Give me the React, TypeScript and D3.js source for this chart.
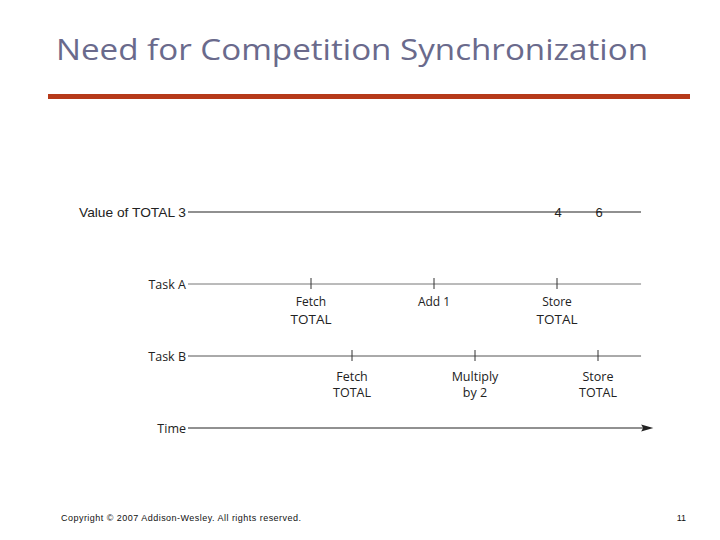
import React from "react";
import * as d3 from "d3";

const title = "Need for Competition Synchronization";
const rows = ["Value of TOTAL 3", "Task A", "Task B", "Time"];
const valueTimes = [9, 10];
const valueLabels = ["4", "6"];
const taskATimes = [3, 6, 9];
const taskALabels = [["Fetch", "TOTAL"], ["Add 1"], ["Store", "TOTAL"]];
const taskBTimes = [4, 7, 10];
const taskBLabels = [["Fetch", "TOTAL"], ["Multiply", "by 2"], ["Store", "TOTAL"]];
const footer = "Copyright © 2007 Addison-Wesley. All rights reserved.";
const pageNumber = "11";

export default function App() {
  const x = d3.scaleLinear().domain([0, 11]).range([188, 639]);
  const y = d3.scalePoint<string>().domain(rows).range([212, 428]);
  const tEnd = 11.05;
  const lineFont = "'Liberation Sans', Arial, sans-serif";
  const taskFont = "'Open Sans', 'DejaVu Sans', sans-serif";

  const renderTaskLabels = (
    times: number[],
    labels: string[][],
    yy: number,
    first: number,
    gap: number,
    sizes: number[]
  ) =>
    times.map((t, i) => (
      <g key={i}>
        <line x1={x(t)} x2={x(t)} y1={yy - 6} y2={yy + 5} stroke="#333" strokeWidth={1} />
        {labels[i].map((s, j) => (
          <text
            key={j}
            x={x(t)}
            y={yy + first + j * gap}
            textAnchor="middle"
            fontFamily={taskFont}
            fontSize={sizes[j]}
            fill="#222"
          >
            {s}
          </text>
        ))}
      </g>
    ));

  return (
    <svg width={720} height={540} style={{ position: "absolute", left: 0, top: 0, background: "#fff" }}>
      <text
        x={56}
        y={60}
        fontFamily="'Open Sans', sans-serif"
        fontSize={29.5}
        fill="#6a6a8c"
        textLength={592}
        lengthAdjust="spacingAndGlyphs"
      >
        {title}
      </text>
      <rect x={48} y={94} width={642} height={5} fill="#b63a1a" />

      {/* Value of TOTAL */}
      <line x1={x(0)} x2={x(tEnd)} y1={y(rows[0])!} y2={y(rows[0])!} stroke="#222" strokeWidth={1.2} />
      <text
        x={186}
        y={y(rows[0])! + 4.5}
        textAnchor="end"
        fontFamily={lineFont}
        fontSize={13}
        fill="#222"
        textLength={107}
        lengthAdjust="spacingAndGlyphs"
      >
        {rows[0]}
      </text>
      {valueTimes.map((t, i) => (
        <text key={i} x={x(t) + 1} y={y(rows[0])! + 5} textAnchor="middle" fontFamily={lineFont} fontSize={13} fill="#222">
          {valueLabels[i]}
        </text>
      ))}

      {/* Task A */}
      <line x1={x(0)} x2={x(tEnd)} y1={y(rows[1])!} y2={y(rows[1])!} stroke="#777" strokeWidth={1} />
      <text x={186} y={y(rows[1])! + 4.5} textAnchor="end" fontFamily={taskFont} fontSize={12.5} fill="#222">
        {rows[1]}
      </text>
      {renderTaskLabels(taskATimes, taskALabels, y(rows[1])!, 21.5, 18, [12, 13.5])}

      {/* Task B */}
      <line x1={x(0)} x2={x(tEnd)} y1={y(rows[2])!} y2={y(rows[2])!} stroke="#555" strokeWidth={1} />
      <text x={186} y={y(rows[2])! + 4.5} textAnchor="end" fontFamily={taskFont} fontSize={12.5} fill="#222">
        {rows[2]}
      </text>
      {renderTaskLabels(taskBTimes, taskBLabels, y(rows[2])!, 24.5, 16.5, [12.5, 12.5])}

      {/* Time */}
      <line x1={x(0)} x2={x(11.15)} y1={y(rows[3])!} y2={y(rows[3])!} stroke="#222" strokeWidth={1} />
      <path
        d={`M${x(11.35)},${y(rows[3])!} L${x(11.15) - 4},${y(rows[3])! - 3.5} L${x(11.15) - 2},${y(rows[3])!} L${x(11.15) - 4},${y(rows[3])! + 3.5} Z`}
        fill="#222"
      />
      <text x={186} y={y(rows[3])! + 4.5} textAnchor="end" fontFamily={taskFont} fontSize={12.5} fill="#222">
        {rows[3]}
      </text>

      <text
        x={61}
        y={521}
        fontFamily={lineFont}
        fontSize={9}
        fill="#111"
        textLength={240}
        lengthAdjust="spacing"
      >
        {footer}
      </text>
      <text x={686} y={521} textAnchor="end" fontFamily={lineFont} fontSize={9} fill="#111">
        {pageNumber}
      </text>
    </svg>
  );
}
